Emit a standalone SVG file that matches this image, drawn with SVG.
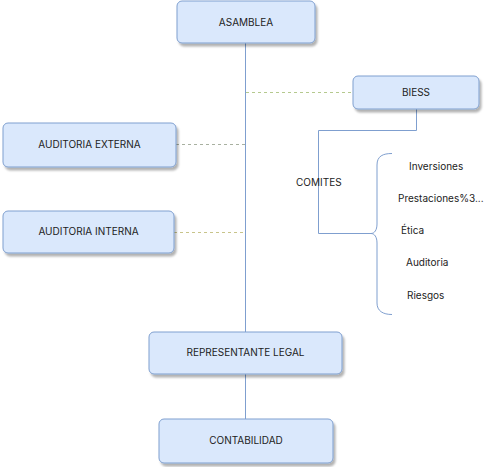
<svg xmlns="http://www.w3.org/2000/svg" width="500" height="467" viewBox="0 0 500 467">
<defs>
<filter id="sh" x="-10%" y="-10%" width="130%" height="140%">
<feDropShadow dx="2" dy="3" stdDeviation="1.2" flood-color="#000" flood-opacity="0.3"/>
</filter>
</defs>
<style>
.box{fill:#dae8fc;stroke:#7f9fcf;stroke-width:1;filter:url(#sh)}
.lbl{font-family:Inter,"Noto Sans",sans-serif;font-size:10px;fill:#222;text-anchor:middle}
.txt{font-family:Inter,"Noto Sans",sans-serif;font-size:10px;fill:#222}
.ln{fill:none;stroke:#7f9fcf;stroke-width:1}
</style>
<rect width="500" height="467" fill="#fff"/>
<g id="connectors">
<path class="ln" d="M245.5,43 V332"/>
<path class="ln" d="M245.5,374 V419"/>
<path fill="none" stroke="#b5c98e" stroke-width="1" stroke-dasharray="3,3" d="M246,92.5 H353"/>
<path fill="none" stroke="#a8b0a0" stroke-width="1" stroke-dasharray="3,3" d="M176,144.5 H245"/>
<path fill="none" stroke="#c8c48a" stroke-width="1" stroke-dasharray="3,3" d="M174,232.5 H245"/>
<path class="ln" d="M416.5,109 V130.5 H318.5 V233.5 H371"/>
<path class="ln" d="M392,153.5 C383,153.5 377,156 377,165 L377,224 C377,230 374.5,233.5 371,233.5 C374.5,233.5 377,237 377,243 L377,303 C377,311 383,314.5 392,314.5"/>
</g>
<g id="asamblea"><rect class="box" x="177" y="1" width="138" height="42" rx="5"/><text class="lbl" x="246" y="25.5">ASAMBLEA</text></g>
<g id="biess"><rect class="box" x="353" y="76" width="126" height="33" rx="5"/><text class="lbl" x="416" y="96">BIESS</text></g>
<g id="auditoria-externa"><rect class="box" x="3" y="123" width="173" height="44" rx="5"/><text class="lbl" x="89.5" y="148">AUDITORIA EXTERNA</text></g>
<g id="auditoria-interna"><rect class="box" x="3" y="211" width="171" height="42" rx="5"/><text class="lbl" x="88.5" y="235">AUDITORIA INTERNA</text></g>
<g id="representante-legal"><rect class="box" x="149" y="332" width="193" height="42" rx="5"/><text class="lbl" x="245.5" y="356">REPRESENTANTE LEGAL</text></g>
<g id="contabilidad"><rect class="box" x="159" y="419" width="174" height="44" rx="5"/><text class="lbl" x="246" y="444">CONTABILIDAD</text></g>
<g id="comites"><text class="txt" x="296" y="185.5" font-size="9">COMITES</text></g>
<g id="comites-list">
<text class="txt" x="409" y="169.5">Inversiones</text>
<text class="txt" x="398" y="201.5">Prestaciones%3...</text>
<text class="txt" x="401" y="233.5">Ética</text>
<text class="txt" x="406" y="265.5">Auditoria</text>
<text class="txt" x="407" y="298.5">Riesgos</text>
</g>
</svg>
